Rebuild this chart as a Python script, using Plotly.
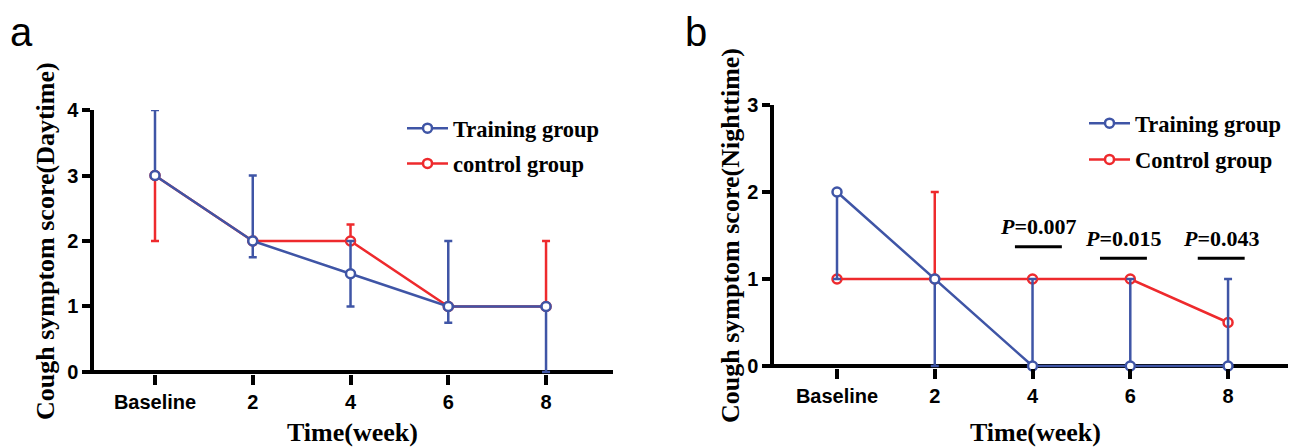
import plotly.graph_objects as go

# ---------------- data ----------------
weeks = [0, 2, 4, 6, 8]
tick_labels = ["Baseline", "2", "4", "6", "8"]

# Panel a: daytime score (median with range)
day_training = [3, 2, 1.5, 1, 1]
day_training_low = [3, 1.75, 1, 0.75, 0]
day_training_high = [4, 3, 2, 2, 1]
day_control = [3, 2, 2, 1, 1]
day_control_low = [2, 2, 2, 1, 1]
day_control_high = [3, 2, 2.25, 1, 2]

# Panel b: nighttime score
night_training = [2, 1, 0, 0, 0]
night_training_low = [1, 0, 0, 0, 0]
night_training_high = [2, 1, 1, 1, 1]
night_control = [1, 1, 1, 1, 0.5]
night_control_low = [1, 1, 1, 1, 0.5]
night_control_high = [1, 2, 1, 1, 0.5]

p_weeks = [4, 6, 8]
p_values = ["0.007", "0.015", "0.043"]

# ---------------- style ----------------
BLUE = "#3F55A6"
RED = "#EE2A2D"
SERIF = "Liberation Serif, Times New Roman, serif"
SANS = "Liberation Sans, Arial, sans-serif"
W, H = 1296, 448
OFF = 8  # page body margin


def px(x):
    return (x - OFF) / W


def py(y):
    return 1 - (y - OFF) / H


def err(vals, low, high):
    return dict(
        type="data", symmetric=False,
        array=[h - v for v, h in zip(vals, high)],
        arrayminus=[v - l for v, l in zip(vals, low)],
    )


def trace(x, y, low, high, name, color, xa, ya, leg, rank):
    e = err(y, low, high)
    e.update(color=color, thickness=2.5, width=4)
    return go.Scatter(
        x=x, y=y, name=name, mode="lines+markers",
        line=dict(color=color, width=2.5),
        marker=dict(symbol="circle", size=9, color="white",
                    line=dict(color=color, width=2.5)),
        error_y=e, xaxis=xa, yaxis=ya, legend=leg, legendrank=rank,
        legendgroup=leg + name, cliponaxis=False,
    )


fig = go.Figure()
fig.add_trace(trace(weeks, day_control, day_control_low, day_control_high,
                    "control group", RED, "x", "y", "legend", 2))
fig.add_trace(trace(weeks, day_training, day_training_low, day_training_high,
                    "Training group", BLUE, "x", "y", "legend", 1))
fig.add_trace(trace(weeks, night_control, night_control_low, night_control_high,
                    "Control group", RED, "x2", "y2", "legend2", 2))
fig.add_trace(trace(weeks, night_training, night_training_low, night_training_high,
                    "Training group", BLUE, "x2", "y2", "legend2", 1))

tickfont = dict(family=SANS, size=20, color="black", weight="bold")
xcommon = dict(
    showline=False, ticks="outside", ticklen=10, tickwidth=3.5,
    tickcolor="black", showgrid=False, zeroline=False, fixedrange=True,
    automargin=False, tickfont=tickfont,
)
ycommon = dict(
    showline=True, linewidth=3.5, linecolor="black",
    ticks="outside", ticklen=8, tickwidth=3.5, tickcolor="black",
    showgrid=False, zeroline=True, zerolinewidth=3.5, zerolinecolor="black",
    fixedrange=True, automargin=False, tickfont=tickfont,
)
legend_font = dict(family=SERIF, size=22.5, color="black", weight="bold")

fig.update_layout(
    width=W, height=H, template="none",
    margin=dict(l=0, r=0, t=0, b=0),
    paper_bgcolor="white", plot_bgcolor="rgba(0,0,0,0)",
    xaxis=dict(domain=[px(94), px(613)], range=[-1.248, 9.37], anchor="y",
               tickvals=weeks, ticktext=tick_labels, **xcommon),
    yaxis=dict(domain=[py(373.75), py(110)], range=[-0.027, 4], anchor="x",
               tickvals=[0, 1, 2, 3, 4], **ycommon),
    xaxis2=dict(domain=[px(774), px(1296)], range=[-1.289, 9.39], anchor="y2",
                tickvals=weeks, ticktext=tick_labels, **xcommon),
    yaxis2=dict(domain=[py(367.75), py(105)], range=[-0.02, 3], anchor="x2",
                tickvals=[0, 1, 2, 3], **ycommon),
    legend=dict(x=px(402), y=py(107), xanchor="left", yanchor="top",
                bgcolor="rgba(0,0,0,0)", itemwidth=41, tracegroupgap=3,
                font=legend_font),
    legend2=dict(x=px(1084), y=py(102), xanchor="left", yanchor="top",
                 bgcolor="rgba(0,0,0,0)", itemwidth=41, tracegroupgap=4,
                 font=legend_font),
    showlegend=True,
)

ann = []
ann.append(dict(text="a", x=px(21), y=1, xref="paper", yref="paper",
                showarrow=False, xanchor="center", yanchor="top",
                font=dict(family=SANS, size=40, color="black")))
ann.append(dict(text="b", x=px(696), y=1, xref="paper", yref="paper",
                showarrow=False, xanchor="center", yanchor="top",
                font=dict(family=SANS, size=40, color="black")))
title_font = dict(family=SERIF, size=26, color="black", weight="bold")
ann.append(dict(text="Cough symptom score(Daytime)", x=px(45), y=py(241),
                xref="paper", yref="paper", showarrow=False, textangle=-90,
                xanchor="center", yanchor="middle", font=title_font))
ann.append(dict(text="Cough symptom score(Nighttime)", x=px(730), y=py(236),
                xref="paper", yref="paper", showarrow=False, textangle=-90,
                xanchor="center", yanchor="middle", font=title_font))
ann.append(dict(text="Time(week)", x=px(352), y=py(432), xref="paper",
                yref="paper", showarrow=False, xanchor="center",
                yanchor="middle", font=title_font))
ann.append(dict(text="Time(week)", x=px(1035), y=py(432), xref="paper",
                yref="paper", showarrow=False, xanchor="center",
                yanchor="middle", font=title_font))

# significance labels and bars (panel b)
p_offsets = [0.12, -0.14, -0.14]
p_text_y = [1.60, 1.46, 1.46]
p_bar_y = [1.37, 1.24, 1.24]
shapes = []
for wk, pv, off, ty, by in zip(p_weeks, p_values, p_offsets, p_text_y, p_bar_y):
    ann.append(dict(text="<i>P</i>=" + pv, x=wk + off, y=ty, xref="x2", yref="y2",
                    showarrow=False, xanchor="center", yanchor="middle",
                    font=dict(family=SERIF, size=22, color="black", weight="bold")))
    shapes.append(dict(type="line", xref="x2", yref="y2", x0=wk + off - 0.48,
                       x1=wk + off + 0.48, y0=by, y1=by,
                       line=dict(color="black", width=3)))

fig.update_layout(annotations=ann, shapes=shapes)

fig.write_html("out.html")
